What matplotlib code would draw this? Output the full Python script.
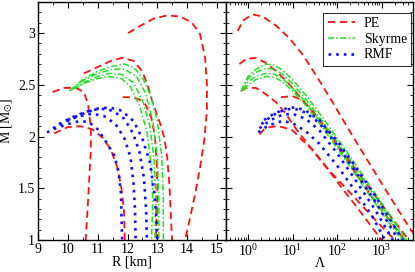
import matplotlib
matplotlib.use("Agg")
import matplotlib.pyplot as plt
from matplotlib.ticker import MultipleLocator, LogLocator, NullFormatter

plt.rcParams["font.family"] = ["Liberation Serif", "DejaVu Serif"]
plt.rcParams["mathtext.fontset"] = "stix"
plt.rcParams["font.size"] = 10

# --- PE (red dashed): mass-radius ---
pe_R = [
    [12.02, 12.43, 12.88, 13.32, 13.77, 14.16, 14.43, 14.60, 14.66, 14.66, 14.57, 14.43, 14.27, 14.10, 13.93],
    [10.54, 10.99, 11.43, 11.82, 12.21, 12.49, 12.66, 12.82, 12.95, 13.10, 13.24, 13.33, 13.41, 13.46, 13.49],
    [9.49, 9.88, 10.27, 10.54, 10.68, 10.77, 10.77, 10.71, 10.66, 10.60],
    [9.54, 9.99, 10.43, 10.82, 11.16, 11.43, 11.66, 11.79, 11.88, 11.91],
    [11.84, 12.10, 12.38, 12.60, 12.80, 12.92, 12.98, 13.00, 12.98, 12.95],
]
pe_M = [
    [3.00, 3.07, 3.14, 3.17, 3.16, 3.10, 2.99, 2.76, 2.51, 2.25, 1.96, 1.70, 1.45, 1.22, 1.00],
    [2.61, 2.67, 2.73, 2.76, 2.73, 2.63, 2.51, 2.35, 2.24, 2.12, 1.98, 1.80, 1.51, 1.19, 1.00],
    [2.43, 2.47, 2.47, 2.43, 2.31, 2.09, 1.87, 1.55, 1.29, 1.00],
    [2.03, 2.09, 2.10, 2.07, 1.99, 1.88, 1.70, 1.51, 1.29, 1.00],
    [2.38, 2.38, 2.36, 2.31, 2.18, 2.00, 1.75, 1.50, 1.25, 1.00],
]
# PE: mass-tidal deformability
pe_L = [
    [0.59, 0.76, 1.27, 2.14, 4.3, 8.5, 17, 34, 80, 200, 500, 1300, 3000, 5600],
    [0.64, 0.90, 1.51, 2.54, 4.3, 7.1, 12, 20, 34, 80, 200, 500, 1300, 4100],
    [0.70, 0.90, 1.5, 2.5, 4.3, 7.1, 10, 20, 50, 120, 300, 1000],
    [1.8, 2.3, 3.0, 4.5, 6, 10, 17, 28, 48, 100, 250, 700, 2000],
    [5.5, 10, 17, 28, 48, 100, 250, 700, 1800, 3300],
]
pe_ML = [
    [3.02, 3.12, 3.18, 3.16, 3.07, 2.95, 2.79, 2.59, 2.33, 2.04, 1.76, 1.47, 1.22, 1.04],
    [2.70, 2.75, 2.76, 2.71, 2.63, 2.54, 2.43, 2.31, 2.20, 1.98, 1.75, 1.52, 1.28, 1.00],
    [2.44, 2.47, 2.47, 2.41, 2.33, 2.22, 2.12, 1.95, 1.74, 1.52, 1.30, 1.00],
    [2.02, 2.07, 2.09, 2.10, 2.09, 2.06, 1.96, 1.87, 1.74, 1.59, 1.41, 1.20, 1.00],
    [2.38, 2.39, 2.35, 2.25, 2.12, 1.92, 1.66, 1.38, 1.15, 1.00],
]

# --- Skyrme (green dash-dot) ---
sk_R = [
    [10.05, 10.5, 11.0, 11.5, 11.9, 12.2, 12.5, 12.8, 13.0, 13.15, 13.2, 13.2],
    [10.1, 10.5, 11.0, 11.5, 11.9, 12.3, 12.6, 12.85, 13.0, 13.05, 13.05],
    [10.15, 10.6, 11.0, 11.4, 11.8, 12.2, 12.5, 12.75, 12.9, 12.95, 12.92],
    [10.2, 10.6, 11.0, 11.4, 11.8, 12.1, 12.4, 12.65, 12.8, 12.85, 12.8],
]
sk_M = [
    [2.44, 2.55, 2.63, 2.68, 2.70, 2.67, 2.57, 2.38, 2.15, 1.80, 1.40, 1.00],
    [2.45, 2.54, 2.61, 2.65, 2.65, 2.58, 2.42, 2.15, 1.80, 1.40, 1.00],
    [2.46, 2.53, 2.58, 2.61, 2.60, 2.52, 2.35, 2.10, 1.75, 1.40, 1.00],
    [2.46, 2.52, 2.56, 2.58, 2.56, 2.48, 2.30, 2.05, 1.70, 1.35, 1.00],
]
sk_L = [
    [0.7, 1.0, 1.5, 2.5, 4, 6, 10, 20, 50, 150, 500, 1500, 3700],
    [0.7, 1.0, 1.5, 2.5, 4, 6, 10, 20, 50, 150, 500, 1500, 3400],
    [0.75, 1.0, 1.5, 2.5, 4, 6, 10, 20, 50, 150, 500, 1500, 3100],
    [0.8, 1.0, 1.5, 2.5, 4, 6, 10, 20, 50, 150, 500, 1500, 2900],
]
sk_ML = [
    [2.44, 2.58, 2.65, 2.70, 2.69, 2.64, 2.55, 2.40, 2.17, 1.88, 1.55, 1.25, 1.00],
    [2.44, 2.56, 2.62, 2.66, 2.65, 2.60, 2.51, 2.36, 2.13, 1.85, 1.52, 1.22, 1.00],
    [2.45, 2.53, 2.58, 2.61, 2.60, 2.56, 2.47, 2.33, 2.10, 1.81, 1.48, 1.19, 1.00],
    [2.45, 2.50, 2.55, 2.58, 2.57, 2.53, 2.44, 2.30, 2.07, 1.78, 1.45, 1.16, 1.00],
]

# --- RMF (blue dotted) ---
rmf_R = [
    [9.3, 9.6, 10.0, 10.4, 10.7, 11.0, 11.3, 11.55, 11.7, 11.78, 11.8, 11.82],
    [9.5, 9.9, 10.3, 10.8, 11.2, 11.6, 11.9, 12.1, 12.2, 12.25, 12.27],
    [9.7, 10.1, 10.6, 11.1, 11.5, 11.9, 12.2, 12.4, 12.55, 12.62, 12.65],
    [10.0, 10.5, 11.0, 11.4, 11.8, 12.2, 12.5, 12.75, 12.9, 12.97, 13.0],
]
rmf_M = [
    [2.04, 2.08, 2.12, 2.15, 2.14, 2.07, 1.94, 1.82, 1.66, 1.45, 1.20, 1.00],
    [2.08, 2.14, 2.19, 2.22, 2.20, 2.12, 1.98, 1.80, 1.55, 1.30, 1.00],
    [2.12, 2.18, 2.24, 2.27, 2.25, 2.17, 2.02, 1.85, 1.60, 1.30, 1.00],
    [2.16, 2.22, 2.27, 2.28, 2.25, 2.15, 1.98, 1.75, 1.45, 1.20, 1.00],
]
rmf_L = [
    [1.7, 2.5, 4, 6, 10, 20, 40, 100, 250, 600, 1200],
    [1.8, 2.6, 4, 6, 10, 20, 40, 100, 250, 700, 1800],
    [2.0, 3, 4.5, 7, 11, 20, 40, 100, 250, 700, 2400],
    [2.3, 3.5, 5.5, 8, 12, 20, 40, 100, 250, 800, 3000],
]
rmf_ML = [
    [2.04, 2.09, 2.13, 2.15, 2.13, 2.05, 1.93, 1.72, 1.48, 1.24, 1.00],
    [2.08, 2.13, 2.18, 2.21, 2.22, 2.17, 2.06, 1.84, 1.59, 1.30, 1.00],
    [2.12, 2.18, 2.23, 2.26, 2.27, 2.23, 2.13, 1.92, 1.67, 1.38, 1.00],
    [2.16, 2.21, 2.25, 2.28, 2.28, 2.25, 2.16, 1.96, 1.72, 1.40, 1.00],
]

red_style = dict(color="#ff1010", lw=1.3, dashes=(4, 2.5))
green_style = dict(color="#22e022", lw=1.1, dashes=(4, 1.5, 1, 1.5))
blue_style = dict(color="#1010ff", lw=1.9, dashes=(1, 1.9))

fig = plt.figure(figsize=(4.15, 2.72), dpi=100)
ax1 = fig.add_axes([38 / 415, 1 - 240 / 272, 188 / 415, 238 / 272])
ax2 = fig.add_axes([226 / 415, 1 - 240 / 272, 187 / 415, 238 / 272], sharey=ax1)

for R, M in zip(pe_R, pe_M):
    ax1.plot(R, M, **red_style)
for R, M in zip(sk_R, sk_M):
    ax1.plot(R, M, **green_style)
for R, M in zip(rmf_R, rmf_M):
    ax1.plot(R, M, **blue_style)

for i, (L, M) in enumerate(zip(pe_L, pe_ML)):
    ax2.plot(L, M, label="PE" if i == 0 else None, **red_style)
for i, (L, M) in enumerate(zip(sk_L, sk_ML)):
    ax2.plot(L, M, label="Skyrme" if i == 0 else None, **green_style)
for i, (L, M) in enumerate(zip(rmf_L, rmf_ML)):
    ax2.plot(L, M, label="RMF" if i == 0 else None, **blue_style)

ax1.set_xlim(9, 15.3)
ax1.set_ylim(1, 3.3)
ax1.xaxis.set_major_locator(MultipleLocator(1))
ax1.xaxis.set_minor_locator(MultipleLocator(0.5))
ax1.yaxis.set_major_locator(MultipleLocator(0.5))
ax1.yaxis.set_minor_locator(MultipleLocator(0.1))
ax1.set_yticks([1, 1.5, 2, 2.5, 3])
ax1.set_yticklabels(["1", "1.5", "2", "2.5", "3"])
ax1.set_xlabel("R [km]", labelpad=0)
ax1.set_ylabel(r"M [M$_{\odot}$]", labelpad=2)

ax2.set_xscale("log")
ax2.set_xlim(0.32, 5100)
ax2.xaxis.set_major_locator(LogLocator(base=10, numticks=10))
ax2.xaxis.set_minor_locator(LogLocator(base=10, subs=range(2, 10), numticks=10))
ax2.xaxis.set_minor_formatter(NullFormatter())
ax2.set_xlabel("Λ", labelpad=-1)
plt.setp(ax2.get_yticklabels(), visible=False)

for ax in (ax1, ax2):
    ax.tick_params(which="both", direction="in", top=True, right=True, labelsize=10, pad=2)
    ax.tick_params(which="major", length=4, width=0.8)
    ax.tick_params(which="minor", length=2.5, width=0.6)
    for s in ax.spines.values():
        s.set_linewidth(1.0)

leg = ax2.legend(loc="upper right", fontsize=10, frameon=True, fancybox=False,
                 handlelength=2.0, borderpad=0.3, labelspacing=0.2, handletextpad=0.6,
                 borderaxespad=0, bbox_to_anchor=(0.99, 0.955))
leg.get_frame().set_edgecolor("black")
leg.get_frame().set_linewidth(0.8)

fig.savefig("out.png", dpi=100)
